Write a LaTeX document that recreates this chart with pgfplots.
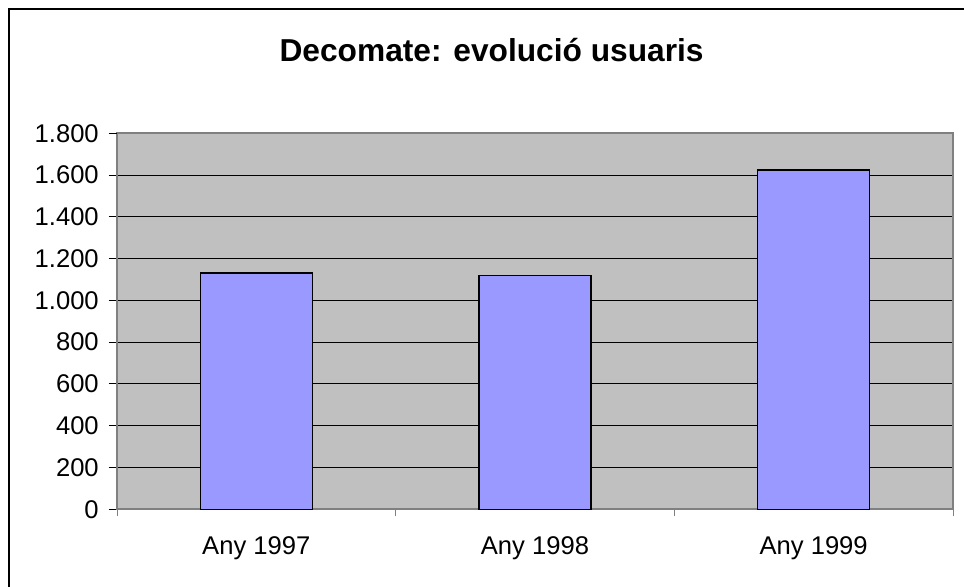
\documentclass[border=0pt]{standalone}
\usepackage{pgfplots}
\pgfplotsset{compat=1.18}
\usepackage{fontspec}
\setmainfont{Liberation Sans}
\definecolor{plotgray}{HTML}{C0C0C0}
\definecolor{barblue}{HTML}{9999FF}
\definecolor{axgray}{HTML}{808080}
\begin{document}
\begin{tikzpicture}
\path[use as bounding box] (0,0) rectangle (482pt,293.5pt);
\draw[line width=1pt] (4.25pt,0) -- (4.25pt,288.75pt) -- (482pt,288.75pt);
\node[font=\fontsize{15.85}{18}\selectfont\bfseries] at (245.8pt,268.3pt) {Decomate: evolució usuaris};
\begin{axis}[at={(58.5pt,38.85pt)}, anchor=south west, scale only axis,
  width=418pt, height=188pt,
  xmin=-0.5, xmax=2.5, ymin=0, ymax=1800,
  ybar, bar width=56pt,
  axis background/.style={fill=plotgray},
  axis line style={draw=axgray, line width=1pt},
  tick pos=left,
  tick align=outside, major tick length=4pt,
  xtick={0,1,2}, xticklabels={Any 1997,Any 1998,Any 1999},
  xtick style={draw=none},
  extra x ticks={-0.5,0.5,1.5,2.5}, extra x tick labels={},
  extra x tick style={xtick style={draw=axgray, line width=0.5pt}, major tick length=3.5pt},
  ytick={0,200,...,1600},
  extra y ticks={1800}, extra y tick style={grid=none},
  ymajorgrids, grid style={black, line width=0.5pt},
  ytick style={black, line width=0.5pt},
  /pgf/number format/1000 sep={.},
  /pgf/number format/assume math mode=true,
  yticklabel style={font=\fontsize{12.8}{15}\selectfont, xshift=-1.6pt},
  xticklabel style={font=\fontsize{12.8}{15}\selectfont, yshift=-6.2pt},
]
\addplot[fill=barblue, draw=black, line width=0.75pt] coordinates {(0,1130) (1,1120) (2,1625)};
\end{axis}
\end{tikzpicture}
\end{document}
